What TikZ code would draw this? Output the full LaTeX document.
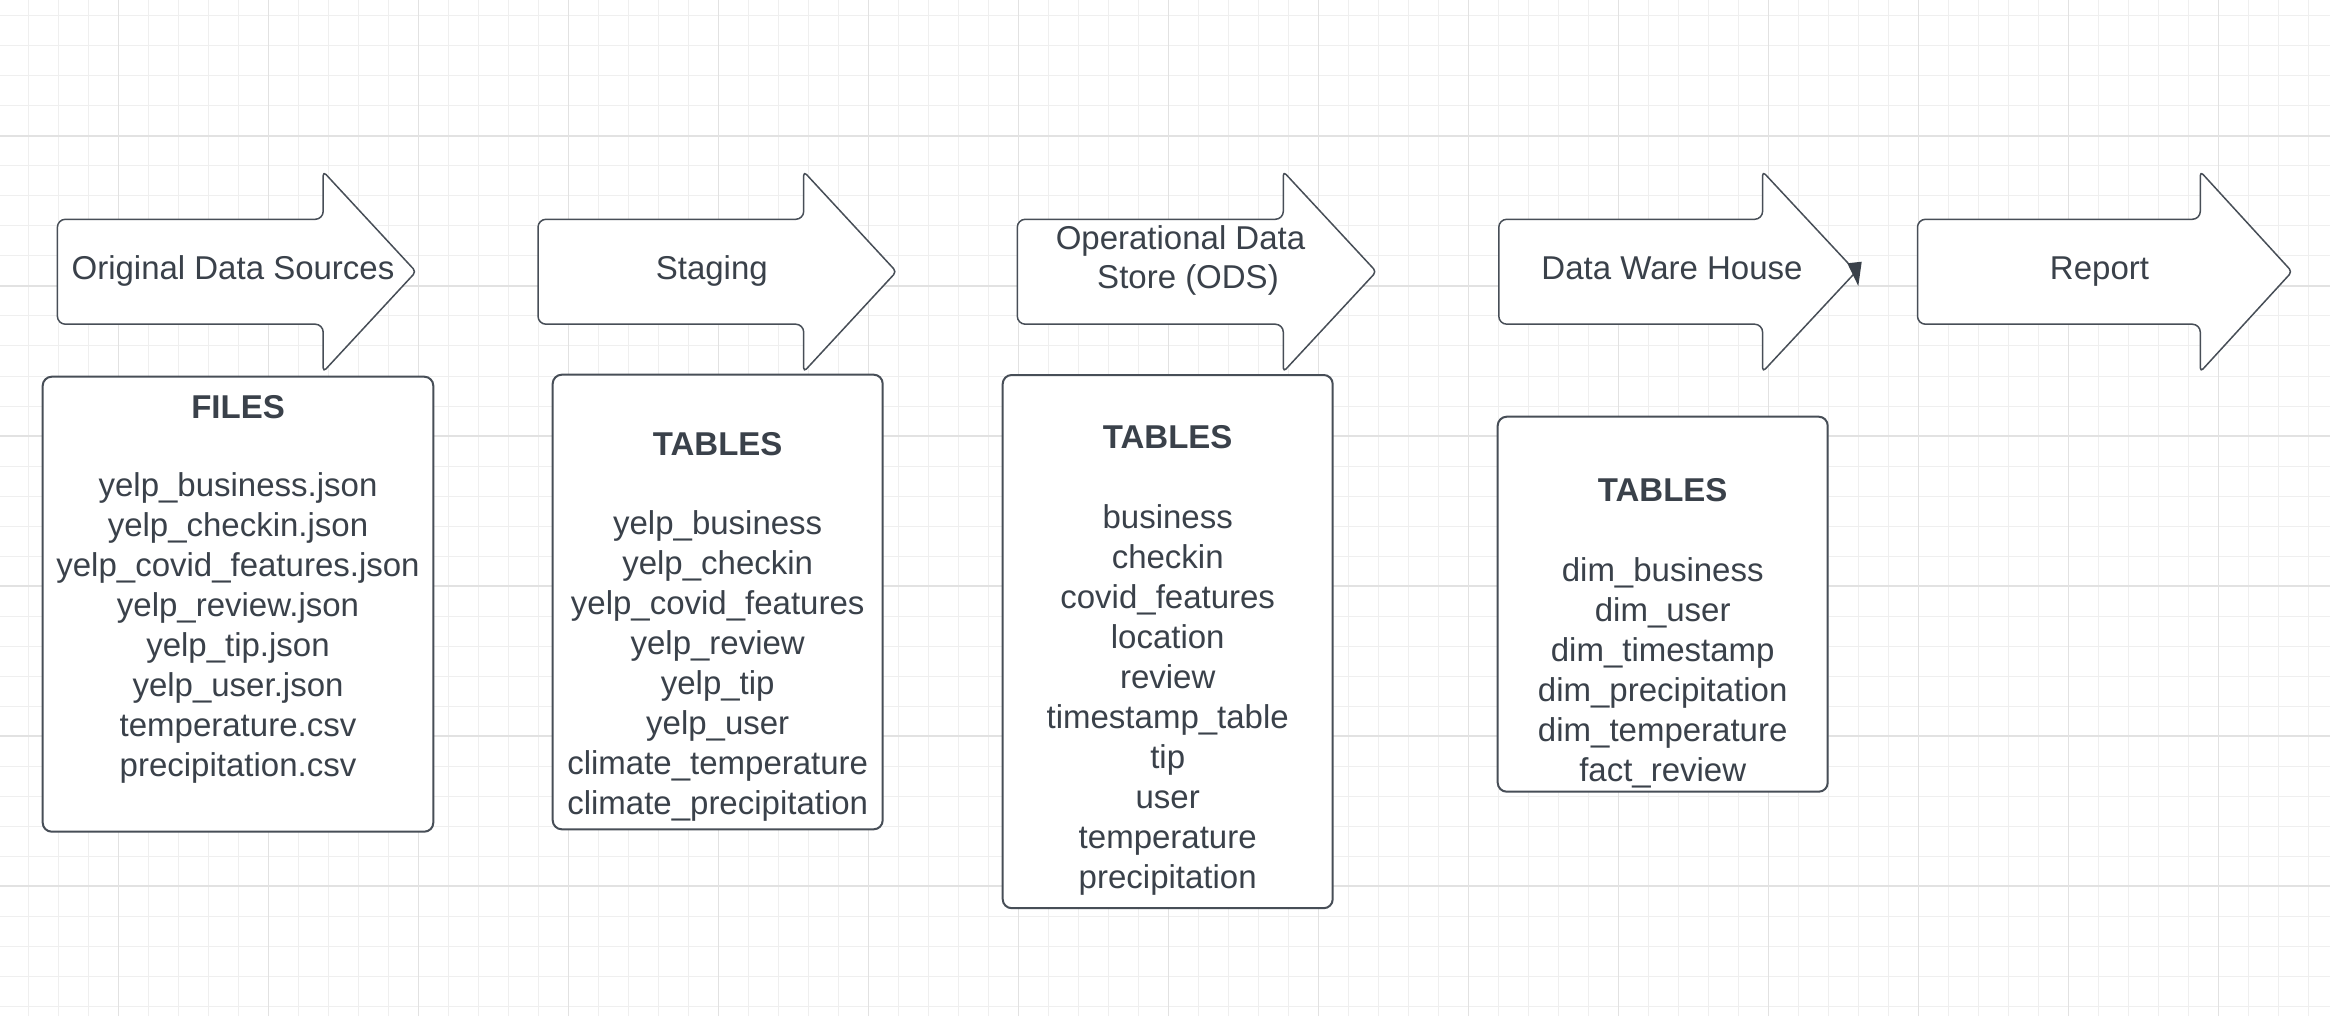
\documentclass[tikz,border=0pt]{standalone}
\usepackage{fontspec}
\setmainfont{Liberation Sans}
\definecolor{ink}{HTML}{3A414A}
\definecolor{edge}{HTML}{474E57}
\definecolor{gridminor}{HTML}{EFEFEF}
\definecolor{gridmajor}{HTML}{E2E2E2}
\newcommand\flowarrow[3]{%
  \draw[arrowshape] (#1,219.3) -- (#2,219.3) [rounded corners=2pt] -- (#2,171.5) -- (#3+2,271.7) -- (#2,371.9) [rounded corners=4pt] -- (#2,324.2) -- (#1,324.2) -- cycle;}
\begin{document}
\begin{tikzpicture}[x=0.5pt,y=-0.5pt,
  gminor/.style={draw=gridminor,line width=0.5pt},
  gmajor/.style={draw=gridmajor,line width=0.6pt},
  arrowshape/.style={draw=edge,fill=white,line width=0.75pt,rounded corners=4pt,line join=round},
  tablebox/.style={draw=edge,fill=white,line width=1pt,rounded corners=4.5pt},
  txt/.style={text=ink,inner sep=0pt,anchor=base,font=\fontsize{16.5}{19.8}\selectfont},
  ttl/.style={txt,font=\fontsize{16.5}{19.8}\selectfont\bfseries}]
\useasboundingbox (0,0) rectangle (2330,1016);
\fill[white] (0,0) rectangle (2330,1016);
% grid
\foreach \k in {0,...,76} \draw[gminor] ({28.7+30*\k},0) -- ({28.7+30*\k},1016);
\foreach \k in {0,...,33} \draw[gminor] (0,{16+30*\k}) -- (2330,{16+30*\k});
\foreach \k in {0,...,14} \draw[gmajor] ({118.7+150*\k},0) -- ({118.7+150*\k},1016);
\foreach \k in {0,...,5} \draw[gmajor] (0,{136+150*\k}) -- (2330,{136+150*\k});
% process arrows
\flowarrow{57.4}{323.2}{414}
\flowarrow{538}{803.7}{894.4}
\flowarrow{1017.3}{1283.3}{1374.3}
\flowarrow{1498.8}{1762.6}{1854}
\flowarrow{1917.5}{2200.3}{2290}
\fill[ink] (1847.3,263.3) -- (1861.7,261.7) -- (1858.3,286) -- cycle;
\node[txt] (a1) at (233,279.3) {Original Data Sources};
\node[txt] (a2) at (711.8,279.3) {Staging};
\node[txt] (a3a) at (1180.5,249.3) {Operational Data};
\node[txt] (a3b) at (1188,289) {Store (ODS)};
\node[txt] (a4) at (1672,279.3) {Data Ware House};
\node[txt] (a5) at (2099.5,279.3) {Report};
% boxes
\draw[tablebox] (42.7,376.7) rectangle (433.3,831.7);
\draw[tablebox] (552.7,374.7) rectangle (882.7,829.3);
\draw[tablebox] (1002.7,375) rectangle (1332.7,908.2);
\draw[tablebox] (1497.7,416.7) rectangle (1827.7,791.7);
% box 1
\node[ttl] (t1) at (238,418.3) {FILES};
\foreach \t [count=\i from 0] in {yelp\_business.json,yelp\_checkin.json,yelp\_covid\_features.json,yelp\_review.json,yelp\_tip.json,yelp\_user.json,temperature.csv,precipitation.csv}
  \node[txt] (f\i) at (238,{496.7+40*\i}) {\t};
% box 2
\node[ttl] (t2) at (717.7,455) {TABLES};
\foreach \t [count=\i from 0] in {yelp\_business,yelp\_checkin,yelp\_covid\_features,yelp\_review,yelp\_tip,yelp\_user,climate\_temperature,climate\_precipitation}
  \node[txt] (s\i) at (717.7,{534.5+40*\i}) {\t};
% box 3
\node[ttl] (t3) at (1167.7,448.6) {TABLES};
\foreach \t [count=\i from 0] in {business,checkin,covid\_features,location,review,timestamp\_table,tip,user,temperature,precipitation}
  \node[txt] (o\i) at (1167.7,{528.3+40*\i}) {\t};
% box 4
\node[ttl] (t4) at (1662.7,501) {TABLES};
\foreach \t [count=\i from 0] in {dim\_business,dim\_user,dim\_timestamp,dim\_precipitation,dim\_temperature,fact\_review}
  \node[txt] (d\i) at (1662.7,{581+40*\i}) {\t};
\end{tikzpicture}
\end{document}
